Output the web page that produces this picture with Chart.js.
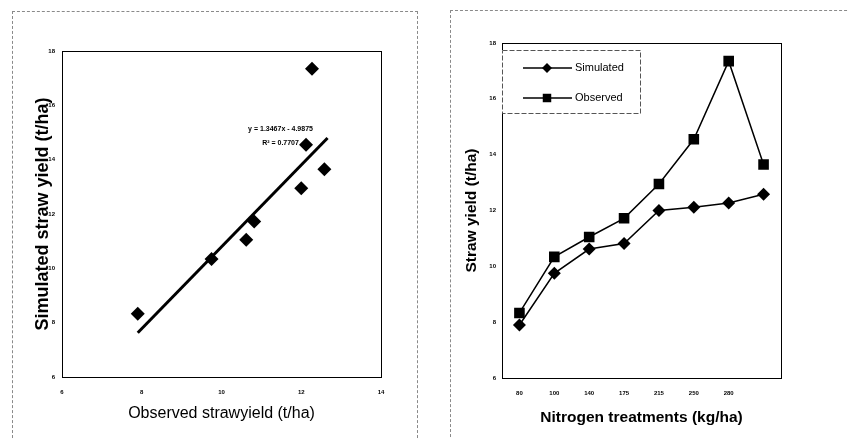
<!DOCTYPE html>
<html>
<head>
<meta charset="utf-8">
<script src="https://cdn.jsdelivr.net/npm/chart.js@4"></script>
<style>
  body { margin: 0; background: #fff; }
  #wrap { position: relative; width: 849px; height: 439px; overflow: hidden; }
  .frame { position: absolute; border: 1px dashed #8a8a8a; }
  canvas { position: absolute; top: 0; }
</style>
</head>
<body>
<div id="wrap">
  <div class="frame" style="left:12px; top:11px; width:404px; height:440px;"></div>
  <div class="frame" style="left:450px; top:10px; width:420px; height:440px;"></div>
  <canvas id="scatter" width="420" height="439" style="left:0; width:420px; height:439px;"></canvas>
  <canvas id="lines" width="429" height="439" style="left:420px; width:429px; height:439px;"></canvas>
</div>
<script>
// nitrogen treatments (kg/ha); last treatment has no printed label
const treatments = ["80", "100", "140", "175", "215", "250", "280", ""];
const simulated = [7.9, 9.75, 10.62, 10.82, 12.0, 12.12, 12.27, 12.58];
const observed = [8.33, 10.34, 11.05, 11.72, 12.95, 14.55, 17.35, 13.65];

// trend line ends as drawn on the scatter plot
const trendX = [7.9, 12.66];
const trendY = [7.63, 14.8];
const trendText = ["y = 1.3467x - 4.9875", "R\u00b2 = 0.7707"];

const yTicks = [6, 8, 10, 12, 14, 16, 18];
const xTicks = [6, 8, 10, 12, 14];

Chart.defaults.font.family = "'Liberation Sans', Arial, sans-serif";
Chart.defaults.color = "#000";
Chart.defaults.animation = false;

const tickFont = { size: 6, weight: "bold" };
const noGrid = { display: false, drawTicks: false };

// black box round the plot area
const frameBox = {
  id: "frameBox",
  afterDatasetsDraw(chart) {
    const a = chart.chartArea;
    const ctx = chart.ctx;
    ctx.save();
    ctx.strokeStyle = "#000";
    ctx.lineWidth = 1;
    ctx.strokeRect(Math.round(a.left) + 0.5, Math.round(a.top) + 0.5,
      Math.round(a.right - a.left), Math.round(a.bottom - a.top));
    ctx.restore();
  },
};

const equationLabel = {
  id: "equationLabel",
  afterDatasetsDraw(chart) {
    const { ctx, scales } = chart;
    const x = scales.x.getPixelForValue(11.48);
    ctx.save();
    ctx.font = "bold 7px 'Liberation Sans', Arial, sans-serif";
    ctx.fillStyle = "#000";
    ctx.textAlign = "center";
    ctx.textBaseline = "middle";
    ctx.fillText(trendText[0], x, scales.y.getPixelForValue(15.14));
    ctx.fillText(trendText[1], x, scales.y.getPixelForValue(14.6));
    ctx.restore();
  },
};

// legend box sitting inside the top left of the plot
const innerLegend = {
  id: "innerLegend",
  afterDraw(chart) {
    const { ctx, chartArea } = chart;
    const left = chartArea.left;
    const top = chartArea.top + 7;
    ctx.save();
    ctx.fillStyle = "#fff";
    ctx.fillRect(left, top, 138, 63);
    ctx.strokeStyle = "#555";
    ctx.lineWidth = 1;
    ctx.setLineDash([5, 2]);
    ctx.strokeRect(left + 0.5, top + 0.5, 138, 63);
    ctx.setLineDash([]);
    chart.data.datasets.forEach((ds, i) => {
      const y = top + 18 + i * 30;
      ctx.strokeStyle = "#000";
      ctx.lineWidth = 1.5;
      ctx.beginPath();
      ctx.moveTo(left + 21, y);
      ctx.lineTo(left + 70, y);
      ctx.stroke();
      ctx.fillStyle = "#000";
      Chart.helpers.drawPoint(ctx, { pointStyle: ds.pointStyle, radius: ds.pointRadius - 1.5, borderWidth: 0 }, left + 45, y);
      ctx.font = "11px 'Liberation Sans', Arial, sans-serif";
      ctx.textAlign = "left";
      ctx.textBaseline = "middle";
      ctx.fillText(ds.label, left + 73, y);
    });
    ctx.restore();
  },
};

new Chart("scatter", {
  type: "scatter",
  data: {
    datasets: [
      {
        label: "Trend",
        type: "line",
        data: trendX.map((x, i) => ({ x: x, y: trendY[i] })),
        borderColor: "#000",
        borderWidth: 3,
        pointRadius: 0,
      },
      {
        label: "Points",
        data: simulated.map((s, i) => ({ x: s, y: observed[i] })),
        pointStyle: "rectRot",
        pointRadius: 7,
        backgroundColor: "#000",
        borderWidth: 0,
      },
    ],
  },
  options: {
    responsive: false,
    layout: { padding: { left: 0, top: 51, right: 39, bottom: 0 } },
    plugins: { legend: { display: false }, tooltip: { enabled: false } },
    scales: {
      x: {
        type: "linear",
        min: 6,
        max: 14,
        afterFit: (s) => { s.height = 62; },
        afterBuildTicks: (s) => { s.ticks = xTicks.map((v) => ({ value: v })); },
        grid: noGrid,
        border: { display: false },
        ticks: { font: tickFont, padding: 12 },
        title: {
          display: true,
          text: "Observed strawyield (t/ha)",
          font: { size: 16 },
          padding: { top: 0, bottom: 16 },
        },
      },
      y: {
        min: 6,
        max: 18,
        afterFit: (s) => { s.width = 62; },
        afterBuildTicks: (s) => { s.ticks = yTicks.map((v) => ({ value: v })); },
        grid: noGrid,
        border: { display: false },
        ticks: { font: tickFont, padding: 7 },
        title: {
          display: true,
          text: "Simulated straw yield (t/ha)",
          font: { size: 18, weight: "bold" },
          padding: { top: 32, bottom: 0 },
        },
      },
    },
  },
  plugins: [frameBox, equationLabel],
});

new Chart("lines", {
  type: "line",
  data: {
    labels: treatments,
    datasets: [
      {
        label: "Simulated",
        data: simulated,
        borderColor: "#000",
        backgroundColor: "#000",
        borderWidth: 1.5,
        pointStyle: "rectRot",
        pointRadius: 6.5,
        pointBorderWidth: 0,
      },
      {
        label: "Observed",
        data: observed,
        borderColor: "#000",
        backgroundColor: "#000",
        borderWidth: 1.5,
        pointStyle: "rect",
        pointRadius: 7.5,
        pointBorderWidth: 0,
      },
    ],
  },
  options: {
    responsive: false,
    layout: { padding: { left: 0, top: 43, right: 68, bottom: 0 } },
    plugins: { legend: { display: false }, tooltip: { enabled: false } },
    scales: {
      x: {
        offset: true,
        afterFit: (s) => { s.height = 61; },
        grid: { display: false, drawTicks: false, offset: true },
        border: { display: false },
        ticks: { font: tickFont, padding: 12, maxRotation: 0, autoSkip: false },
        title: {
          display: true,
          text: "Nitrogen treatments (kg/ha)",
          font: { size: 15.5, weight: "bold" },
          padding: { top: 0, bottom: 11.5 },
        },
      },
      y: {
        min: 6,
        max: 18,
        afterFit: (s) => { s.width = 82; },
        afterBuildTicks: (s) => { s.ticks = yTicks.map((v) => ({ value: v })); },
        grid: noGrid,
        border: { display: false },
        ticks: { font: tickFont, padding: 6 },
        title: {
          display: true,
          text: "Straw yield (t/ha)",
          font: { size: 15.5, weight: "bold" },
          padding: { top: 42.5, bottom: 0 },
        },
      },
    },
  },
  plugins: [frameBox, innerLegend],
});
</script>
</body>
</html>
